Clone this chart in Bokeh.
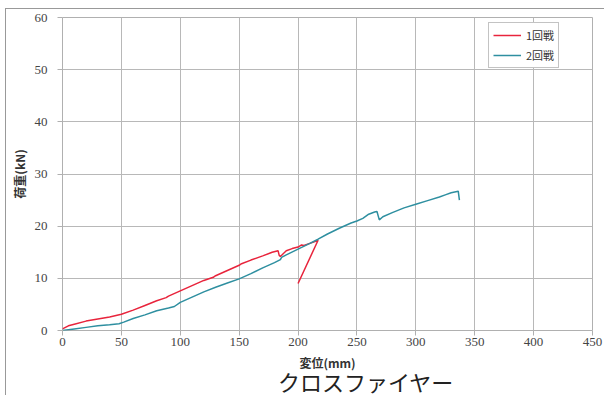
from bokeh.plotting import figure
from bokeh.models import Range1d, FixedTicker, Legend, LegendItem, Div
from bokeh.layouts import column
from bokeh.embed import file_html
from bokeh.resources import INLINE

# Series 1 (1回戦)
x1 = [0, 5, 10, 20, 30, 40, 50, 60, 70, 80, 88, 90, 100, 110, 120, 128, 130, 140, 150, 152,
      160, 170, 178, 183, 184, 185, 190, 195, 200, 203, 205, 210, 215, 217, 200]
y1 = [0.3, 0.9, 1.2, 1.8, 2.2, 2.6, 3.1, 3.9, 4.8, 5.7, 6.3, 6.6, 7.6, 8.6, 9.6, 10.2, 10.5, 11.5, 12.5, 12.8,
      13.5, 14.3, 15.0, 15.3, 14.4, 14.2, 15.3, 15.7, 16.0, 16.4, 16.3, 16.7, 17.1, 17.3, 9.0]

# Series 2 (2回戦)
x2 = [0, 10, 20, 30, 40, 48, 52, 60, 70, 80, 90, 95, 100, 110, 120, 130, 140, 150, 160, 170,
      180, 185, 186, 190, 200, 210, 217, 225, 235, 245, 250, 255, 260, 265, 267, 269, 272, 280,
      290, 300, 310, 320, 325, 330, 334, 336, 337]
y2 = [0, 0.3, 0.6, 0.9, 1.1, 1.3, 1.6, 2.3, 3.0, 3.8, 4.3, 4.6, 5.4, 6.4, 7.4, 8.3, 9.1, 9.9, 10.9, 12.0,
      13.0, 13.6, 14.0, 14.5, 15.6, 16.7, 17.5, 18.5, 19.6, 20.6, 21.0, 21.5, 22.3, 22.7, 22.8, 21.2, 21.8, 22.6,
      23.5, 24.2, 24.9, 25.6, 26.0, 26.4, 26.6, 26.7, 25.0]

x_ticks = [0, 50, 100, 150, 200, 250, 300, 350, 400, 450]
y_ticks = [0, 10, 20, 30, 40, 50, 60]

p = figure(width=599, height=367, output_backend="svg", toolbar_location=None,
           x_range=Range1d(0, 450), y_range=Range1d(0, 60),
           min_border_left=56, min_border_right=13, min_border_top=8, min_border_bottom=46,
           margin=0)

p.outline_line_color = "#b0b0b0"
p.background_fill_color = "white"

for ax in (p.xaxis[0], p.yaxis[0]):
    ax.axis_line_color = None
    ax.major_tick_line_color = "#b0b0b0"
    ax.major_tick_out = 5
    ax.major_tick_in = 0
    ax.minor_tick_line_color = None
    ax.major_label_text_font = "Liberation Serif"
    ax.major_label_text_font_size = "13px"
    ax.major_label_text_color = "#444444"
    ax.axis_label_text_font = "Noto Sans CJK JP"
    ax.axis_label_text_font_style = "bold"
    ax.axis_label_text_font_size = "12px"
    ax.axis_label_text_color = "#333333"

p.xaxis[0].ticker = FixedTicker(ticks=x_ticks)
p.yaxis[0].ticker = FixedTicker(ticks=y_ticks)
p.xaxis[0].major_label_standoff = 2
p.yaxis[0].major_label_standoff = 10
p.xaxis[0].axis_label = "変位(mm)"
p.xaxis[0].axis_label_standoff = 5
p.yaxis[0].axis_label = "荷重(kN)"
p.yaxis[0].axis_label_standoff = 4

p.xgrid.grid_line_color = "#b8b8b8"
p.ygrid.grid_line_color = "#b8b8b8"
p.xgrid.ticker = FixedTicker(ticks=x_ticks)
p.ygrid.ticker = FixedTicker(ticks=y_ticks)

r1 = p.line(x1, y1, line_color="#e8243c", line_width=1.5)
r2 = p.line(x2, y2, line_color="#2e8fa0", line_width=1.5)

legend = Legend(items=[LegendItem(label="1回戦", renderers=[r1]),
                       LegendItem(label="2回戦", renderers=[r2])],
                location=(426, 262))
legend.label_text_font = "Noto Sans CJK JP"
legend.label_text_font_size = "11px"
legend.label_text_color = "#333333"
legend.glyph_width = 28
legend.glyph_height = 14
legend.spacing = 4
legend.padding = 4
legend.margin = 0
legend.label_standoff = 5
legend.border_line_color = "#888888"
legend.background_fill_alpha = 1
p.add_layout(legend, "center")

title_div = Div(
    text='<div style="position:relative;top:-6px;margin-left:272px;font-family:\'Noto Sans CJK JP\';'
         'font-size:22px;letter-spacing:0px;line-height:22px;color:#222;white-space:nowrap;">'
         'クロスファイヤー</div>',
    width=599, height=20, margin=0, styles={"overflow": "visible"})

layout = column(p, title_div, margin=(9, 0, 0, 6), spacing=0)
layout.styles = {"box-shadow": "-1px -1px 0 #999999"}

open("out.html", "w").write(file_html(layout, INLINE))
